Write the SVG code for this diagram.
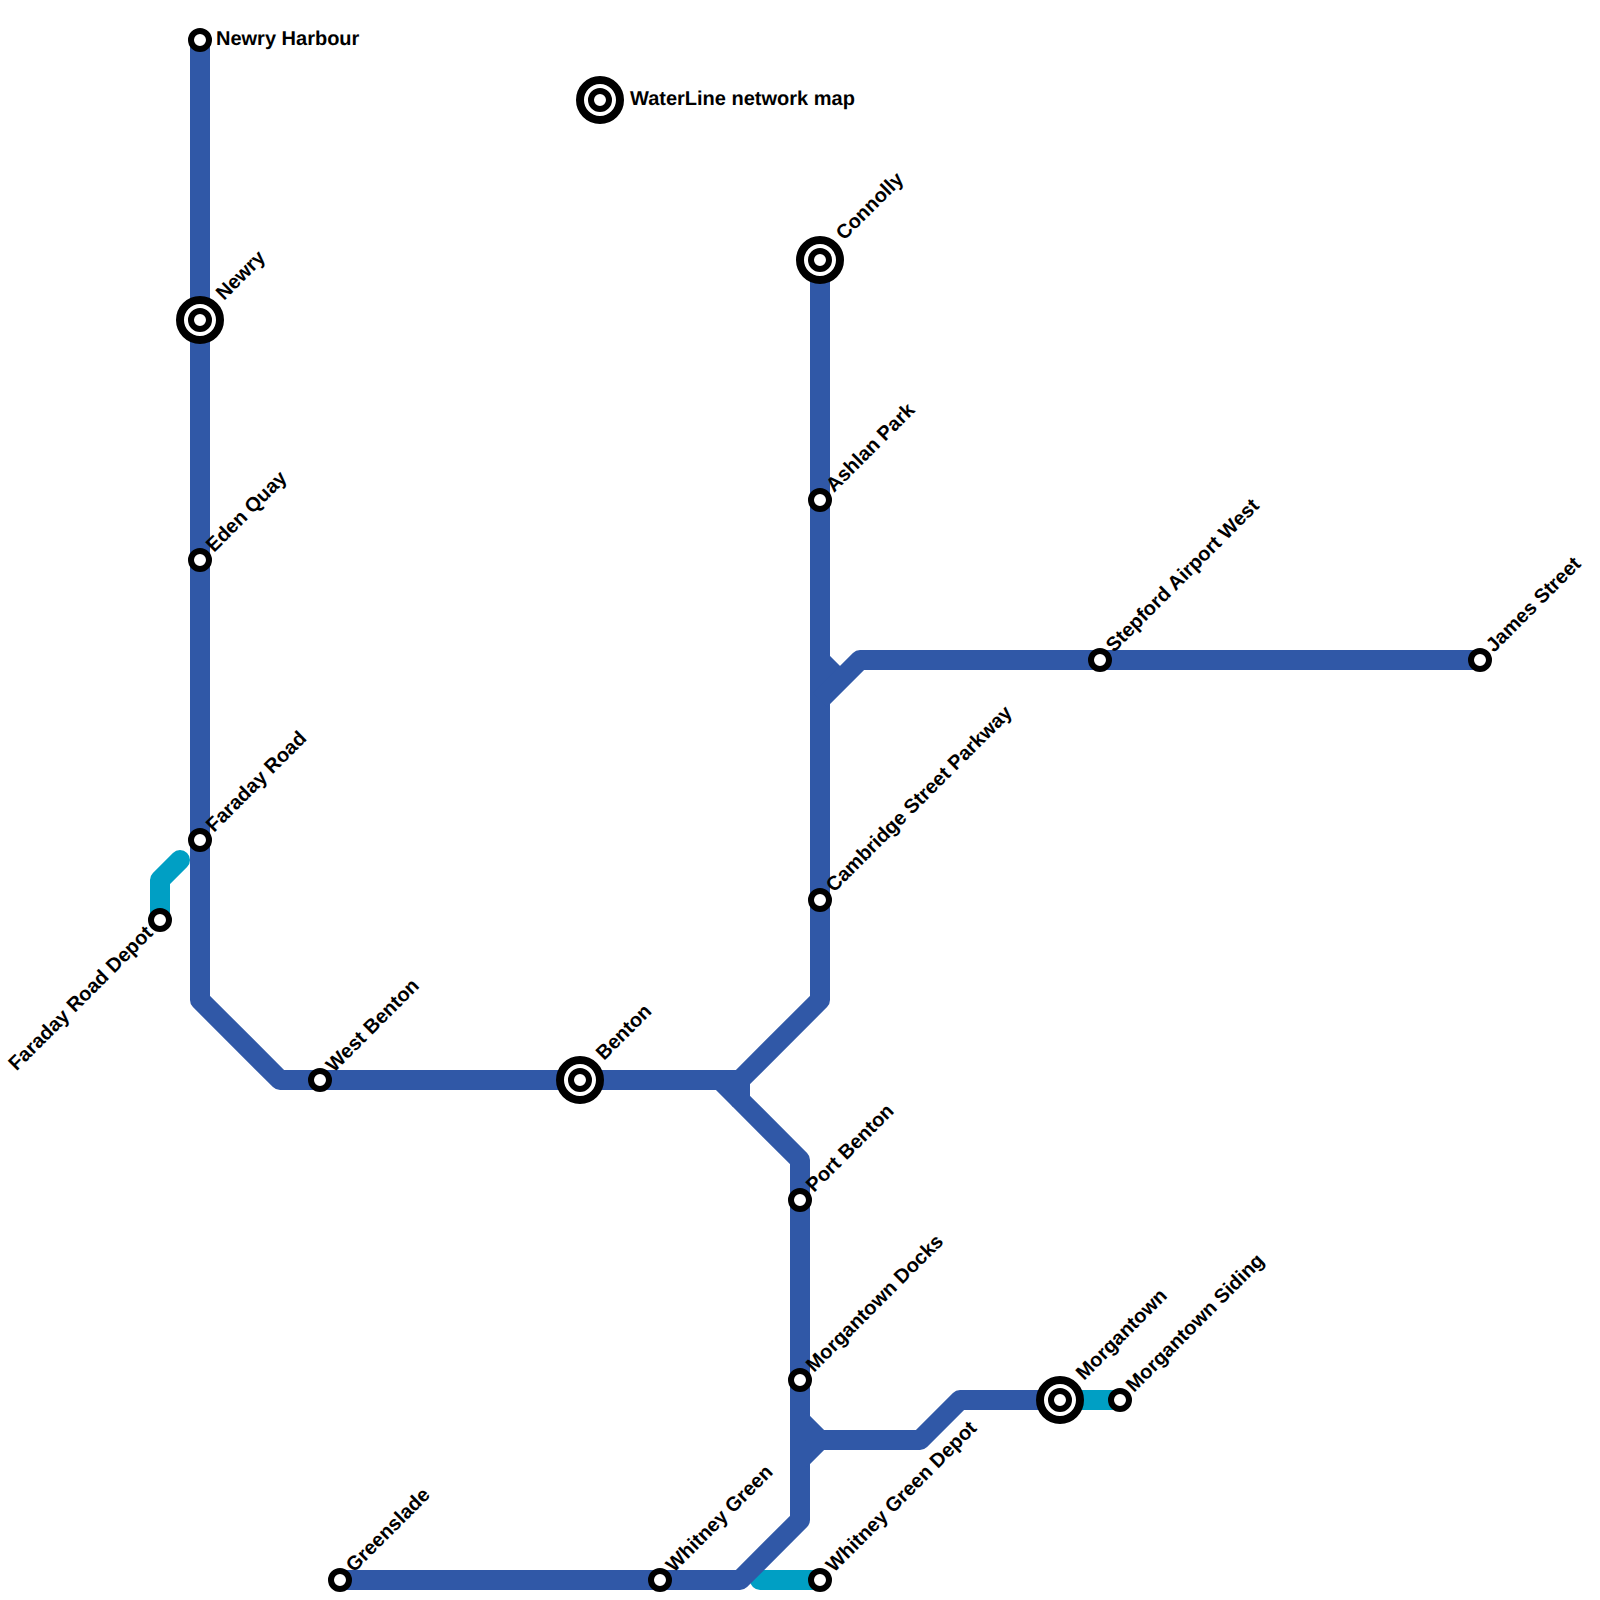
<svg xmlns="http://www.w3.org/2000/svg" width="1600" height="1600" viewBox="0 0 1600 1600">
<style>
.b{fill:none;stroke:#3058a7;stroke-width:20;stroke-linejoin:round}
.t{fill:none;stroke:#009fc4;stroke-width:20;stroke-linejoin:round;stroke-linecap:round}
.s{fill:#fff;stroke:#000;stroke-width:6}
.i{fill:#fff;stroke:#000;stroke-width:8}
text{font-family:"Liberation Sans",Arial,sans-serif;font-weight:700;font-size:20px;fill:#000;text-rendering:geometricPrecision}
</style>
<rect width="1600" height="1600" fill="#fff"/>
<g id="connectors">
<path class="t" d="M180 860L160 880V920"/>
<path class="t" d="M1060 1400H1120"/>
<path class="t" d="M760 1580H820"/>
<path class="b" d="M200 40V1000L280 1080H740L820 1000V260"/>
<path class="b" d="M720 1080L740 1100"/>
<path class="b" d="M740 1080V1100L800 1160V1520L740 1580H340"/>
<path class="b" d="M820 660L840 680"/>
<path class="b" d="M820 700L860 660H1480"/>
<path class="b" d="M800 1420L820 1440L800 1460"/>
<path class="b" d="M820 1440H920L960 1400H1060"/>
</g>
<g id="title"><circle class="i" cx="600" cy="100" r="20"/><circle class="s" cx="600" cy="100" r="9"/><text x="630" y="105">WaterLine network map</text></g>
<g id="newry-harbour"><circle class="s" cx="200" cy="40" r="9"/><text x="216" y="45">Newry Harbour</text></g>
<g id="newry"><circle class="i" cx="200" cy="320" r="20"/><circle class="s" cx="200" cy="320" r="9"/><text transform="translate(224 301) rotate(-45)">Newry</text></g>
<g id="eden-quay"><circle class="s" cx="200" cy="560" r="9"/><text transform="translate(214 553) rotate(-45)">Eden Quay</text></g>
<g id="faraday-road"><circle class="s" cx="200" cy="840" r="9"/><text transform="translate(214 833) rotate(-45)">Faraday Road</text></g>
<g id="faraday-road-depot"><circle class="s" cx="160" cy="920" r="9"/><text transform="translate(154 934) rotate(-45)" text-anchor="end">Faraday Road Depot</text></g>
<g id="west-benton"><circle class="s" cx="320" cy="1080" r="9"/><text transform="translate(334 1073) rotate(-45)">West Benton</text></g>
<g id="benton"><circle class="i" cx="580" cy="1080" r="20"/><circle class="s" cx="580" cy="1080" r="9"/><text transform="translate(604 1061) rotate(-45)">Benton</text></g>
<g id="connolly"><circle class="i" cx="820" cy="260" r="20"/><circle class="s" cx="820" cy="260" r="9"/><text transform="translate(844 241) rotate(-45)">Connolly</text></g>
<g id="ashlan-park"><circle class="s" cx="820" cy="500" r="9"/><text transform="translate(834 493) rotate(-45)">Ashlan Park</text></g>
<g id="cambridge-street-parkway"><circle class="s" cx="820" cy="900" r="9"/><text transform="translate(834 893) rotate(-45)">Cambridge Street Parkway</text></g>
<g id="stepford-airport-west"><circle class="s" cx="1100" cy="660" r="9"/><text transform="translate(1114 653) rotate(-45)">Stepford Airport West</text></g>
<g id="james-street"><circle class="s" cx="1480" cy="660" r="9"/><text transform="translate(1494 653) rotate(-45)">James Street</text></g>
<g id="port-benton"><circle class="s" cx="800" cy="1200" r="9"/><text transform="translate(814 1193) rotate(-45)">Port Benton</text></g>
<g id="morgantown-docks"><circle class="s" cx="800" cy="1380" r="9"/><text transform="translate(814 1373) rotate(-45)">Morgantown Docks</text></g>
<g id="morgantown"><circle class="i" cx="1060" cy="1400" r="20"/><circle class="s" cx="1060" cy="1400" r="9"/><text transform="translate(1084 1381) rotate(-45)">Morgantown</text></g>
<g id="morgantown-siding"><circle class="s" cx="1120" cy="1400" r="9"/><text transform="translate(1134 1393) rotate(-45)">Morgantown Siding</text></g>
<g id="greenslade"><circle class="s" cx="340" cy="1580" r="9"/><text transform="translate(354 1573) rotate(-45)">Greenslade</text></g>
<g id="whitney-green"><circle class="s" cx="660" cy="1580" r="9"/><text transform="translate(674 1573) rotate(-45)">Whitney Green</text></g>
<g id="whitney-green-depot"><circle class="s" cx="820" cy="1580" r="9"/><text transform="translate(834 1573) rotate(-45)">Whitney Green Depot</text></g>
</svg>
